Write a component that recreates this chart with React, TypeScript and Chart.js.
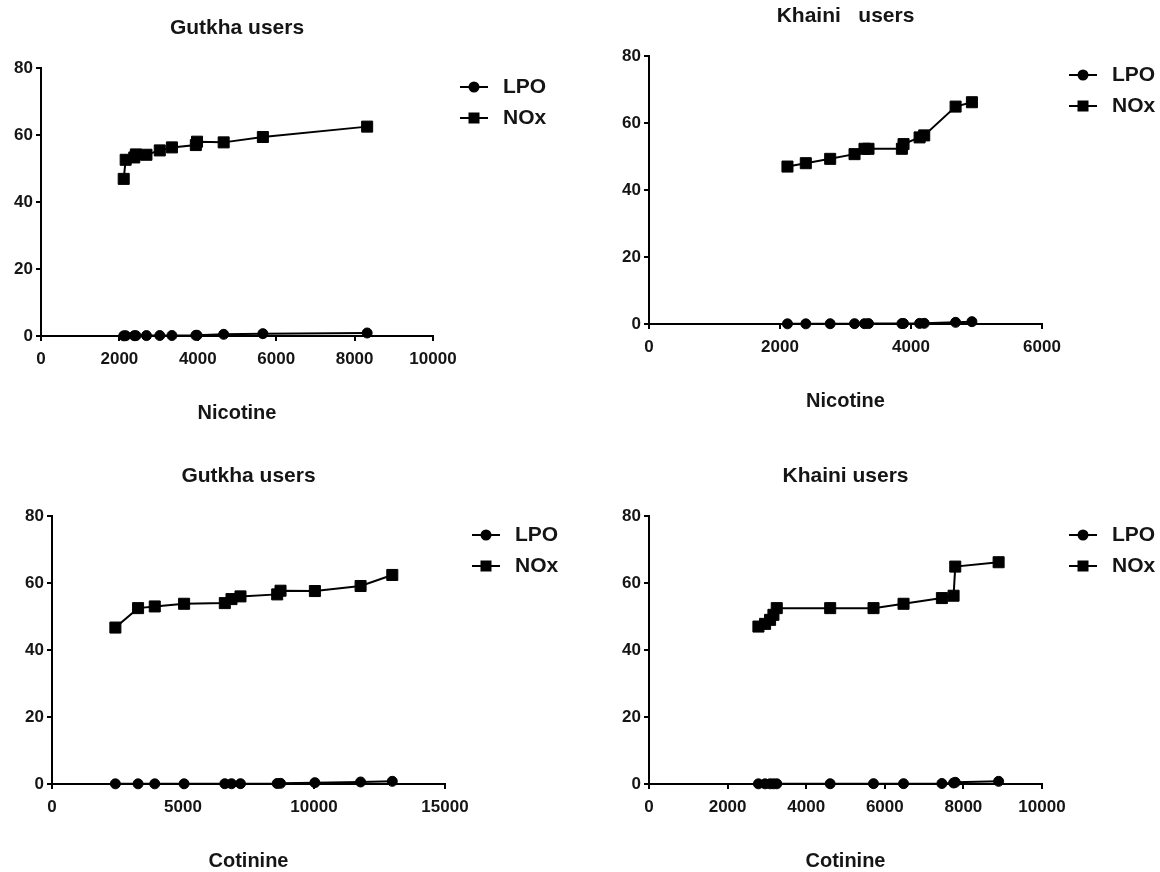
import React, { useEffect, useRef } from 'react';
import { Chart, registerables } from 'chart.js';

Chart.register(...registerables);

const FONT = "'Liberation Sans', Arial, Helvetica, sans-serif";
const TEXT = '#151515';

// ---- Data ----
const seriesLabels = ['LPO', 'NOx'];
const yTickMax = 80;
const yTickStep = 20;

// Gutkha users – Nicotine
const gutkhaNicotine = [2110, 2160, 2380, 2420, 2690, 3030, 3340, 3950, 3980, 4660, 5660, 8320];
const gutkhaNicotineLPO = [0.05, 0.08, 0.1, 0.1, 0.12, 0.15, 0.15, 0.2, 0.22, 0.5, 0.7, 0.9];
const gutkhaNicotineNOx = [46.9, 52.6, 53.3, 54.2, 54.1, 55.4, 56.3, 57.0, 58.0, 57.8, 59.4, 62.5];

// Khaini users – Nicotine
const khainiNicotine = [2114, 2394, 2766, 3138, 3290, 3351, 3861, 3886, 4131, 4202, 4681, 4930];
const khainiNicotineLPO = [0.05, 0.05, 0.08, 0.1, 0.1, 0.12, 0.12, 0.15, 0.18, 0.2, 0.5, 0.7];
const khainiNicotineNOx = [47.0, 48.0, 49.3, 50.7, 52.3, 52.3, 52.3, 53.7, 55.7, 56.3, 64.9, 66.2];

// Gutkha users – Cotinine
const gutkhaCotinine = [2419, 3285, 3922, 5042, 6596, 6851, 7194, 8595, 8722, 10034, 11778, 12988];
const gutkhaCotinineLPO = [0.05, 0.05, 0.05, 0.06, 0.08, 0.08, 0.1, 0.15, 0.2, 0.4, 0.6, 0.8];
const gutkhaCotinineNOx = [46.7, 52.5, 53.0, 53.8, 54.0, 55.2, 56.0, 56.6, 57.7, 57.6, 59.1, 62.4];

// Khaini users – Cotinine
const khainiCotinine = [2784, 2954, 3081, 3166, 3251, 4610, 5713, 6477, 7453, 7750, 7793, 8896];
const khainiCotinineLPO = [0.05, 0.05, 0.05, 0.05, 0.06, 0.08, 0.1, 0.1, 0.15, 0.3, 0.5, 0.8];
const khainiCotinineNOx = [47.0, 47.8, 49.0, 50.5, 52.5, 52.5, 52.5, 53.8, 55.5, 56.2, 64.9, 66.2];

type Panel = {
  title: string;
  xTitle: string;
  xMax: number;
  xStep: number;
  x: number[];
  lpo: number[];
  nox: number[];
  left: number;
  top: number;
  plotWidth: number;
};

const panels: Panel[] = [
  { title: 'Gutkha users', xTitle: 'Nicotine', xMax: 10000, xStep: 2000, x: gutkhaNicotine, lpo: gutkhaNicotineLPO, nox: gutkhaNicotineNOx, left: 1, top: 0, plotWidth: 392 },
  { title: 'Khaini   users', xTitle: 'Nicotine', xMax: 6000, xStep: 2000, x: khainiNicotine, lpo: khainiNicotineLPO, nox: khainiNicotineNOx, left: 609, top: -12, plotWidth: 393 },
  { title: 'Gutkha users', xTitle: 'Cotinine', xMax: 15000, xStep: 5000, x: gutkhaCotinine, lpo: gutkhaCotinineLPO, nox: gutkhaCotinineNOx, left: 12, top: 448, plotWidth: 393 },
  { title: 'Khaini users', xTitle: 'Cotinine', xMax: 10000, xStep: 2000, x: khainiCotinine, lpo: khainiCotinineLPO, nox: khainiCotinineNOx, left: 609, top: 448, plotWidth: 393 },
];

const Y_AXIS_W = 40;
const RIGHT_PAD = 140;
const CANVAS_H = 430;
const X_AXIS_H = 94;

const lineLegend = {
  id: 'lineLegend',
  afterDraw(chart: any) {
    const { ctx, chartArea } = chart;
    chart.data.datasets.forEach((ds: any, i: number) => {
      const y = chartArea.top + 19 + i * 31;
      const x0 = chartArea.right + 27;
      const x1 = x0 + 28;
      const cx = (x0 + x1) / 2;
      ctx.save();
      ctx.strokeStyle = '#000';
      ctx.fillStyle = '#000';
      ctx.lineWidth = 2;
      ctx.beginPath();
      ctx.moveTo(x0, y);
      ctx.lineTo(x1, y);
      ctx.stroke();
      if (ds.pointStyle === 'rect') {
        ctx.fillRect(cx - 5.5, y - 5.5, 11, 11);
      } else {
        ctx.beginPath();
        ctx.arc(cx, y, 5.5, 0, Math.PI * 2);
        ctx.fill();
      }
      ctx.fillStyle = TEXT;
      ctx.font = `bold 21px ${FONT}`;
      ctx.textAlign = 'left';
      ctx.textBaseline = 'middle';
      ctx.fillText(ds.label, chartArea.right + 70, y);
      ctx.restore();
    });
  },
};

function PanelChart({ p }: { p: Panel }) {
  const ref = useRef<HTMLCanvasElement | null>(null);
  const width = Y_AXIS_W + p.plotWidth + RIGHT_PAD;

  useEffect(() => {
    if (!ref.current) return;
    const tickFont = { family: FONT, size: 17, weight: 'bold' as const };
    const pts = (ys: number[]) => p.x.map((xv, i) => ({ x: xv, y: ys[i] }));
    const chart = new Chart(ref.current, {
      type: 'line',
      data: {
        datasets: [
          {
            label: seriesLabels[0],
            data: pts(p.lpo),
            borderColor: '#000',
            backgroundColor: '#000',
            borderWidth: 2,
            pointStyle: 'circle',
            pointRadius: 5,
            pointBorderWidth: 1,
            tension: 0,
            clip: false,
          } as any,
          {
            label: seriesLabels[1],
            data: pts(p.nox),
            borderColor: '#000',
            backgroundColor: '#000',
            borderWidth: 2,
            pointStyle: 'rect',
            pointRadius: 7.8,
            pointBorderWidth: 1,
            tension: 0,
            clip: false,
          } as any,
        ],
      },
      options: {
        responsive: false,
        maintainAspectRatio: false,
        animation: false,
        layout: { padding: { left: 0, right: RIGHT_PAD, top: 0, bottom: 0 } },
        plugins: {
          legend: { display: false },
          tooltip: { enabled: false },
          title: {
            display: true,
            text: p.title,
            color: TEXT,
            fullSize: false,
            font: { family: FONT, size: 21, weight: 'bold' },
            padding: { top: 15.4, bottom: 27.4 },
          },
        },
        scales: {
          x: {
            type: 'linear',
            min: 0,
            max: p.xMax,
            ticks: {
              stepSize: p.xStep,
              color: TEXT,
              font: tickFont,
              padding: 8,
              maxRotation: 0,
              autoSkip: false,
              callback: (v: any) => String(v),
            },
            grid: { display: true, drawOnChartArea: false, drawTicks: true, tickLength: 5, color: '#000', lineWidth: 2 },
            border: { display: true, color: '#000', width: 2 },
            title: {
              display: true,
              text: p.xTitle,
              color: TEXT,
              font: { family: FONT, size: 20, weight: 'bold' },
              padding: { top: 0, bottom: 5 },
            },
            afterFit: (s: any) => {
              s.height = X_AXIS_H;
              s.paddingLeft = 0;
              s.paddingRight = 0;
            },
          },
          y: {
            type: 'linear',
            min: 0,
            max: yTickMax,
            ticks: {
              stepSize: yTickStep,
              color: TEXT,
              font: tickFont,
              padding: 3,
              callback: (v: any) => String(v),
            },
            grid: { display: true, drawOnChartArea: false, drawTicks: true, tickLength: 5, color: '#000', lineWidth: 2 },
            border: { display: true, color: '#000', width: 2 },
            afterFit: (s: any) => {
              s.width = Y_AXIS_W;
              s.paddingTop = 0;
              s.paddingBottom = 0;
            },
          },
        },
      } as any,
      plugins: [lineLegend],
    });
    return () => chart.destroy();
  }, [p]);

  return (
    <canvas
      ref={ref}
      width={width}
      height={CANVAS_H}
      style={{ position: 'absolute', left: p.left, top: p.top, width, height: CANVAS_H }}
    />
  );
}

export default function App() {
  return (
    <div
      style={{
        position: 'fixed',
        left: 0,
        top: 0,
        width: 1160,
        height: 872,
        overflow: 'hidden',
        background: '#fff',
      }}
    >
      {panels.map((p, i) => (
        <PanelChart key={i} p={p} />
      ))}
    </div>
  );
}
